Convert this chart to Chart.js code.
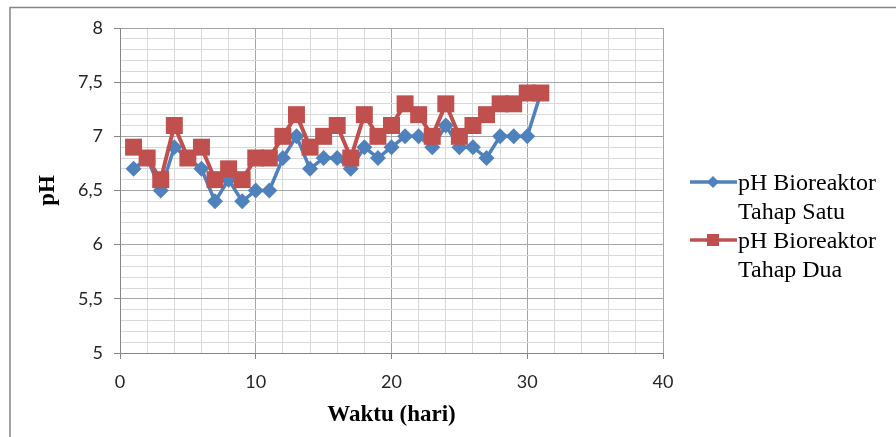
<!DOCTYPE html>
<html>
<head>
<meta charset="utf-8">
<script src="https://cdn.jsdelivr.net/npm/chart.js@4.4.1/dist/chart.umd.min.js"></script>
<style>
    html, body { margin: 0; padding: 0; background: #fff; }
    canvas { display: block; }
</style>
</head>
<body>
<canvas id="phChart" width="896" height="437"></canvas>
<script>
// data
const hari = [1, 2, 3, 4, 5, 6, 7, 8, 9, 10, 11, 12, 13, 14, 15, 16, 17, 18, 19, 20, 21, 22, 23, 24, 25, 26, 27, 28, 29, 30, 31];
const phSatu = [6.7, 6.8, 6.5, 6.9, 6.8, 6.7, 6.4, 6.6, 6.4, 6.5, 6.5, 6.8, 7.0, 6.7, 6.8, 6.8, 6.7, 6.9, 6.8, 6.9, 7.0, 7.0, 6.9, 7.1, 6.9, 6.9, 6.8, 7.0, 7.0, 7.0, 7.4];
const phDua = [6.9, 6.8, 6.6, 7.1, 6.8, 6.9, 6.6, 6.7, 6.6, 6.8, 6.8, 7.0, 7.2, 6.9, 7.0, 7.1, 6.8, 7.2, 7.0, 7.1, 7.3, 7.2, 7.0, 7.3, 7.0, 7.1, 7.2, 7.3, 7.3, 7.4, 7.4];
const labelSatu = ['pH Bioreaktor', 'Tahap Satu'];
const labelDua = ['pH Bioreaktor', 'Tahap Dua'];

const BIRU = '#4F81BD';
const MERAH = '#C0504D';
const MAJOR = '#a6a6a6';
const MINOR = '#d9d9d9';
const AXIS = '#868686';
const SERIF = '"Liberation Serif", "Times New Roman", Times, serif';

function isMajorX(v) { return Math.abs(v / 10 - Math.round(v / 10)) < 1e-6; }
function isMajorY(v) { return Math.abs(v * 2 - Math.round(v * 2)) < 1e-6; }

// bingkai luar + legenda manual (label dua baris)
const frameLegend = {
    id: 'frameLegend',
    beforeDraw(chart) {
        const ctx = chart.ctx;
        ctx.save();
        ctx.fillStyle = '#fff';
        ctx.fillRect(0, 0, chart.width, chart.height);
        ctx.strokeStyle = AXIS;
        ctx.lineWidth = 1.5;
        ctx.strokeRect(10, 7.5, chart.width + 20, chart.height + 20);
        ctx.restore();
    },
    afterDraw(chart) {
        const ctx = chart.ctx;
        const items = [
            { lines: labelSatu, color: BIRU, shape: 'diamond', y: 182 },
            { lines: labelDua, color: MERAH, shape: 'square', y: 240 }
        ];
        ctx.save();
        items.forEach(item => {
            ctx.strokeStyle = item.color;
            ctx.fillStyle = item.color;
            ctx.lineWidth = 3.5;
            ctx.beginPath();
            ctx.moveTo(690, item.y);
            ctx.lineTo(737, item.y);
            ctx.stroke();
            ctx.beginPath();
            if (item.shape === 'diamond') {
                ctx.moveTo(713 - 6, item.y);
                ctx.lineTo(713, item.y - 6);
                ctx.lineTo(713 + 6, item.y);
                ctx.lineTo(713, item.y + 6);
                ctx.closePath();
            } else {
                ctx.rect(713 - 6, item.y - 6, 12, 12);
            }
            ctx.fill();

            ctx.fillStyle = '#000';
            ctx.font = 'normal 400 24px ' + SERIF;
            ctx.textBaseline = 'alphabetic';
            ctx.textAlign = 'left';
            ctx.fillText(item.lines[0], 738, item.y + 8);
            ctx.fillText(item.lines[1], 738, item.y + 37);
        });
        ctx.restore();
    }
};

const ctx = document.getElementById('phChart').getContext('2d');

new Chart(ctx, {
    type: 'line',
    data: {
        datasets: [
            {
                label: labelSatu.join(' '),
                data: hari.map((h, i) => ({ x: h, y: phSatu[i] })),
                borderColor: BIRU,
                backgroundColor: BIRU,
                borderWidth: 3.5,
                pointStyle: 'rectRot',
                pointRadius: 8,
                pointBorderWidth: 0,
                tension: 0,
                order: 1
            },
            {
                label: labelDua.join(' '),
                data: hari.map((h, i) => ({ x: h, y: phDua[i] })),
                borderColor: MERAH,
                backgroundColor: MERAH,
                borderWidth: 4,
                pointStyle: 'rect',
                pointRadius: 12,
                pointBorderWidth: 0,
                tension: 0,
                order: 0
            }
        ]
    },
    options: {
        responsive: false,
        animation: false,
        devicePixelRatio: 1,
        layout: {
            padding: { left: 0, top: 28, right: 233, bottom: 0 }
        },
        plugins: {
            legend: { display: false },
            tooltip: { enabled: false }
        },
        scales: {
            x: {
                type: 'linear',
                min: 0,
                max: 40,
                afterFit: s => { s.height = 84; },
                border: { color: AXIS, width: 1 },
                grid: {
                    color: c => isMajorX(c.tick.value) ? MAJOR : MINOR,
                    tickColor: c => isMajorX(c.tick.value) ? AXIS : 'transparent',
                    tickLength: 6
                },
                ticks: {
                    stepSize: 2,
                    autoSkip: false,
                    maxRotation: 0,
                    padding: 12,
                    color: '#262626',
                    font: { family: 'Lato, "Open Sans", sans-serif', size: 18 },
                    callback: v => isMajorX(v) ? String(v) : ''
                },
                title: {
                    display: true,
                    text: 'Waktu (hari)',
                    color: '#000',
                    font: { family: SERIF, size: 23, weight: 'bold' },
                    padding: { top: 8, bottom: 8 }
                }
            },
            y: {
                type: 'linear',
                min: 5,
                max: 8,
                afterFit: s => { s.width = 120; },
                border: { color: AXIS, width: 1 },
                grid: {
                    color: c => isMajorY(c.tick.value) ? MAJOR : MINOR,
                    tickColor: c => isMajorY(c.tick.value) ? AXIS : 'transparent',
                    tickLength: 6
                },
                ticks: {
                    stepSize: 0.1,
                    autoSkip: false,
                    padding: 11,
                    color: '#262626',
                    font: { family: 'Lato, "Open Sans", sans-serif', size: 18 },
                    callback: v => isMajorY(v) ? String(Math.round(v * 10) / 10).replace('.', ',') : ''
                },
                title: {
                    display: true,
                    text: 'pH',
                    color: '#000',
                    font: { family: SERIF, size: 23, weight: 'bold' },
                    padding: { top: 34, bottom: 34 }
                }
            }
        }
    },
    plugins: [frameLegend]
});
</script>
</body>
</html>
